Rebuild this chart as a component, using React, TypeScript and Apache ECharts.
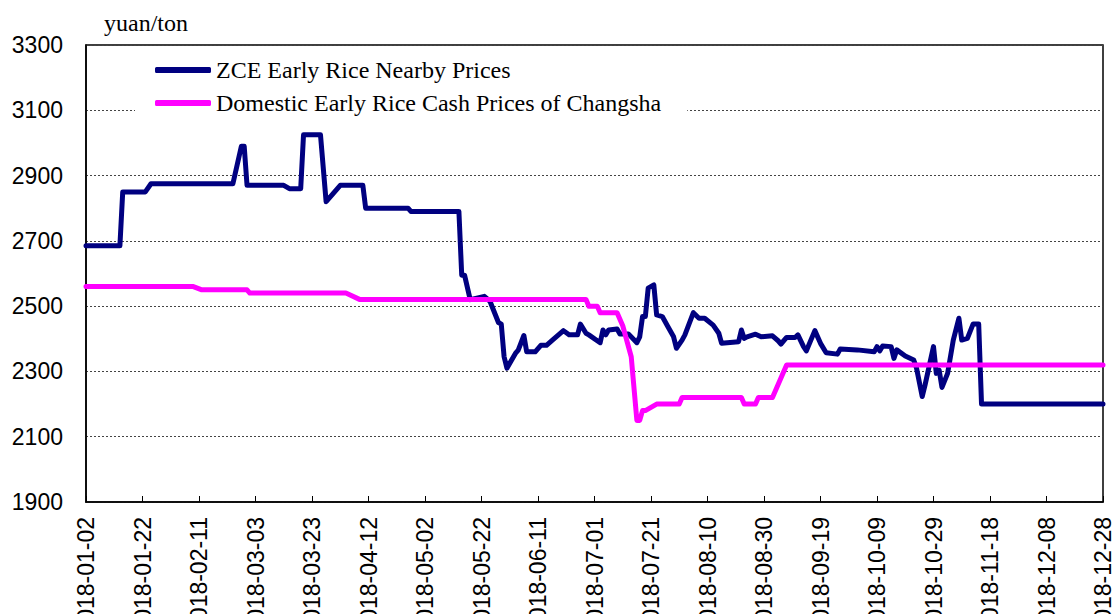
import React, { useEffect, useRef } from "react";
import * as echarts from "echarts";

const zceName = "ZCE Early Rice Nearby Prices";
const cashName = "Domestic Early Rice Cash Prices of Changsha";

const zceDates = [
  "2018-01-02", "2018-01-14", "2018-01-15", "2018-01-23", "2018-01-25", "2018-02-23", "2018-02-26", "2018-02-27",
  "2018-02-28", "2018-03-13", "2018-03-15", "2018-03-19", "2018-03-20", "2018-03-26", "2018-03-28", "2018-04-02",
  "2018-04-10", "2018-04-11", "2018-04-26", "2018-04-27", "2018-05-14", "2018-05-15", "2018-05-16", "2018-05-18",
  "2018-05-23", "2018-05-25", "2018-05-28", "2018-05-29", "2018-05-30", "2018-05-31", "2018-06-03", "2018-06-04",
  "2018-06-06", "2018-06-07", "2018-06-10", "2018-06-12", "2018-06-14", "2018-06-16", "2018-06-20", "2018-06-22",
  "2018-06-25", "2018-06-26", "2018-06-28", "2018-06-29", "2018-07-03", "2018-07-04", "2018-07-05", "2018-07-06",
  "2018-07-09", "2018-07-10", "2018-07-13", "2018-07-16", "2018-07-17", "2018-07-18", "2018-07-19", "2018-07-20",
  "2018-07-22", "2018-07-23", "2018-07-25", "2018-07-27", "2018-07-29", "2018-07-30", "2018-08-01", "2018-08-02",
  "2018-08-05", "2018-08-07", "2018-08-09", "2018-08-12", "2018-08-14", "2018-08-15", "2018-08-21", "2018-08-22",
  "2018-08-23", "2018-08-24", "2018-08-27", "2018-08-29", "2018-09-02", "2018-09-04", "2018-09-05", "2018-09-07",
  "2018-09-10", "2018-09-11", "2018-09-13", "2018-09-14", "2018-09-17", "2018-09-19", "2018-09-21", "2018-09-25",
  "2018-09-26", "2018-10-02", "2018-10-08", "2018-10-09", "2018-10-10", "2018-10-11", "2018-10-14", "2018-10-15",
  "2018-10-16", "2018-10-19", "2018-10-22", "2018-10-23", "2018-10-25", "2018-10-26", "2018-10-29", "2018-10-30",
  "2018-10-31", "2018-11-01", "2018-11-03", "2018-11-05", "2018-11-07", "2018-11-08", "2018-11-10", "2018-11-12",
  "2018-11-14", "2018-11-15", "2018-12-28",
];
const zceValues = [
  2685, 2685, 2850, 2850, 2875, 2875, 2990, 2990,
  2870, 2870, 2860, 2860, 3025, 3025, 2820, 2870,
  2870, 2800, 2800, 2790, 2790, 2595, 2595, 2520,
  2530, 2515, 2450, 2445, 2345, 2310, 2355, 2365,
  2410, 2360, 2360, 2380, 2380, 2395, 2425, 2412,
  2412, 2445, 2417, 2412, 2388, 2427, 2412, 2427,
  2430, 2415, 2415, 2388, 2406, 2468, 2468, 2555,
  2565, 2473, 2468, 2437, 2406, 2371, 2396, 2412,
  2480, 2463, 2463, 2442, 2417, 2386, 2391, 2427,
  2401, 2406, 2414, 2406, 2409, 2394, 2384, 2404,
  2404, 2412, 2376, 2363, 2425, 2386, 2357, 2353,
  2369, 2366, 2360, 2376, 2363, 2378, 2376, 2340,
  2366, 2347, 2335, 2310, 2223, 2258, 2376, 2294,
  2304, 2251, 2294, 2396, 2463, 2396, 2401, 2445,
  2445, 2200, 2200,
];

const cashDates = [
  "2018-01-02", "2018-02-09", "2018-02-12", "2018-02-28", "2018-03-01", "2018-04-04", "2018-04-09", "2018-06-28",
  "2018-06-29", "2018-07-02", "2018-07-03", "2018-07-09", "2018-07-11", "2018-07-14", "2018-07-16", "2018-07-17",
  "2018-07-18", "2018-07-19", "2018-07-23", "2018-07-31", "2018-08-01", "2018-08-22", "2018-08-23", "2018-08-27",
  "2018-08-28", "2018-09-02", "2018-09-07", "2018-12-28",
];
const cashValues = [
  2560, 2560, 2550, 2550, 2540, 2540, 2520, 2520,
  2500, 2500, 2480, 2480, 2440, 2345, 2150, 2150,
  2180, 2180, 2200, 2200, 2220, 2220, 2200, 2200,
  2220, 2220, 2320, 2320,
];

const startDate = "2018-01-02";
const endDate = "2018-12-28";
const yTicks = [1900, 2100, 2300, 2500, 2700, 2900, 3100, 3300];
const unitLabel = "yuan/ton";

const DAY = 86400000;
const t0 = Date.parse(startDate + "T00:00:00Z");
const toDay = (s: string) => Math.round((Date.parse(s + "T00:00:00Z") - t0) / DAY);
const fmtDay = (d: number) => {
  const dt = new Date(t0 + d * DAY);
  const m = String(dt.getUTCMonth() + 1).padStart(2, "0");
  const dd = String(dt.getUTCDate()).padStart(2, "0");
  return `${dt.getUTCFullYear()}-${m}-${dd}`;
};

export default function App() {
  const ref = useRef<HTMLDivElement>(null);
  useEffect(() => {
    document.body.style.margin = "0";
    if (!ref.current) return;
    const chart = echarts.init(ref.current, undefined, { renderer: "svg" });
    const serif = "'Liberation Serif', 'Times New Roman', serif";
    const sans = "'Liberation Sans', Arial, sans-serif";
    chart.setOption({
      animation: false,
      backgroundColor: "#fff",
      title: {
        text: unitLabel,
        left: 99,
        top: 6,
        textStyle: { fontFamily: serif, fontSize: 24, fontWeight: "normal", color: "#000" },
      },
      legend: {
        orient: "vertical",
        left: 135,
        top: 52,
        padding: [6, 26, 6, 20],
        backgroundColor: "#fff",
        itemWidth: 56,
        itemHeight: 6,
        itemGap: 9,
        icon: "roundRect",
        textStyle: { fontFamily: serif, fontSize: 24, color: "#000", lineHeight: 24 },
        data: [zceName, cashName],
      },
      grid: {
        left: 86,
        right: 10,
        top: 45,
        bottom: 112,
        show: true,
        borderColor: "#000",
        borderWidth: 1.5,
        backgroundColor: "transparent",
        containLabel: false,
        outerBoundsMode: "none",
      },
      xAxis: {
        type: "value",
        min: 0,
        max: toDay(endDate),
        interval: 20,
        axisLine: { show: true, lineStyle: { color: "#000", width: 1.5 } },
        axisTick: { show: true, inside: true, length: 6, lineStyle: { color: "#000" } },
        splitLine: { show: false },
        axisLabel: {
          rotate: 90,
          margin: 15,
          fontFamily: sans,
          fontSize: 23,
          color: "#000",
          hideOverlap: false,
          formatter: (v: number) => fmtDay(v),
        },
      },
      yAxis: {
        type: "value",
        min: yTicks[0],
        max: yTicks[yTicks.length - 1],
        interval: 200,
        axisLine: { show: true, lineStyle: { color: "#000", width: 1.5 } },
        axisTick: { show: false },
        splitLine: { show: true, lineStyle: { color: "#444", type: [2, 2], width: 1 } },
        axisLabel: {
          margin: 23,
          fontFamily: sans,
          fontSize: 23,
          color: "#000",
          formatter: (v: number) => String(v),
        },
      },
      series: [
        {
          name: zceName,
          type: "line",
          showSymbol: false,
          symbol: "none",
          data: zceDates.map((d, i) => [toDay(d), zceValues[i]]),
          itemStyle: { color: "#000080" },
          lineStyle: { color: "#000080", width: 5, join: "round", cap: "round" },
        },
        {
          name: cashName,
          type: "line",
          showSymbol: false,
          symbol: "none",
          data: cashDates.map((d, i) => [toDay(d), cashValues[i]]),
          itemStyle: { color: "#FF00FF" },
          lineStyle: { color: "#FF00FF", width: 5, join: "round", cap: "round" },
        },
      ],
    });
    return () => chart.dispose();
  }, []);
  return <div ref={ref} style={{ width: 1113, height: 614, overflow: "hidden" }} />;
}
